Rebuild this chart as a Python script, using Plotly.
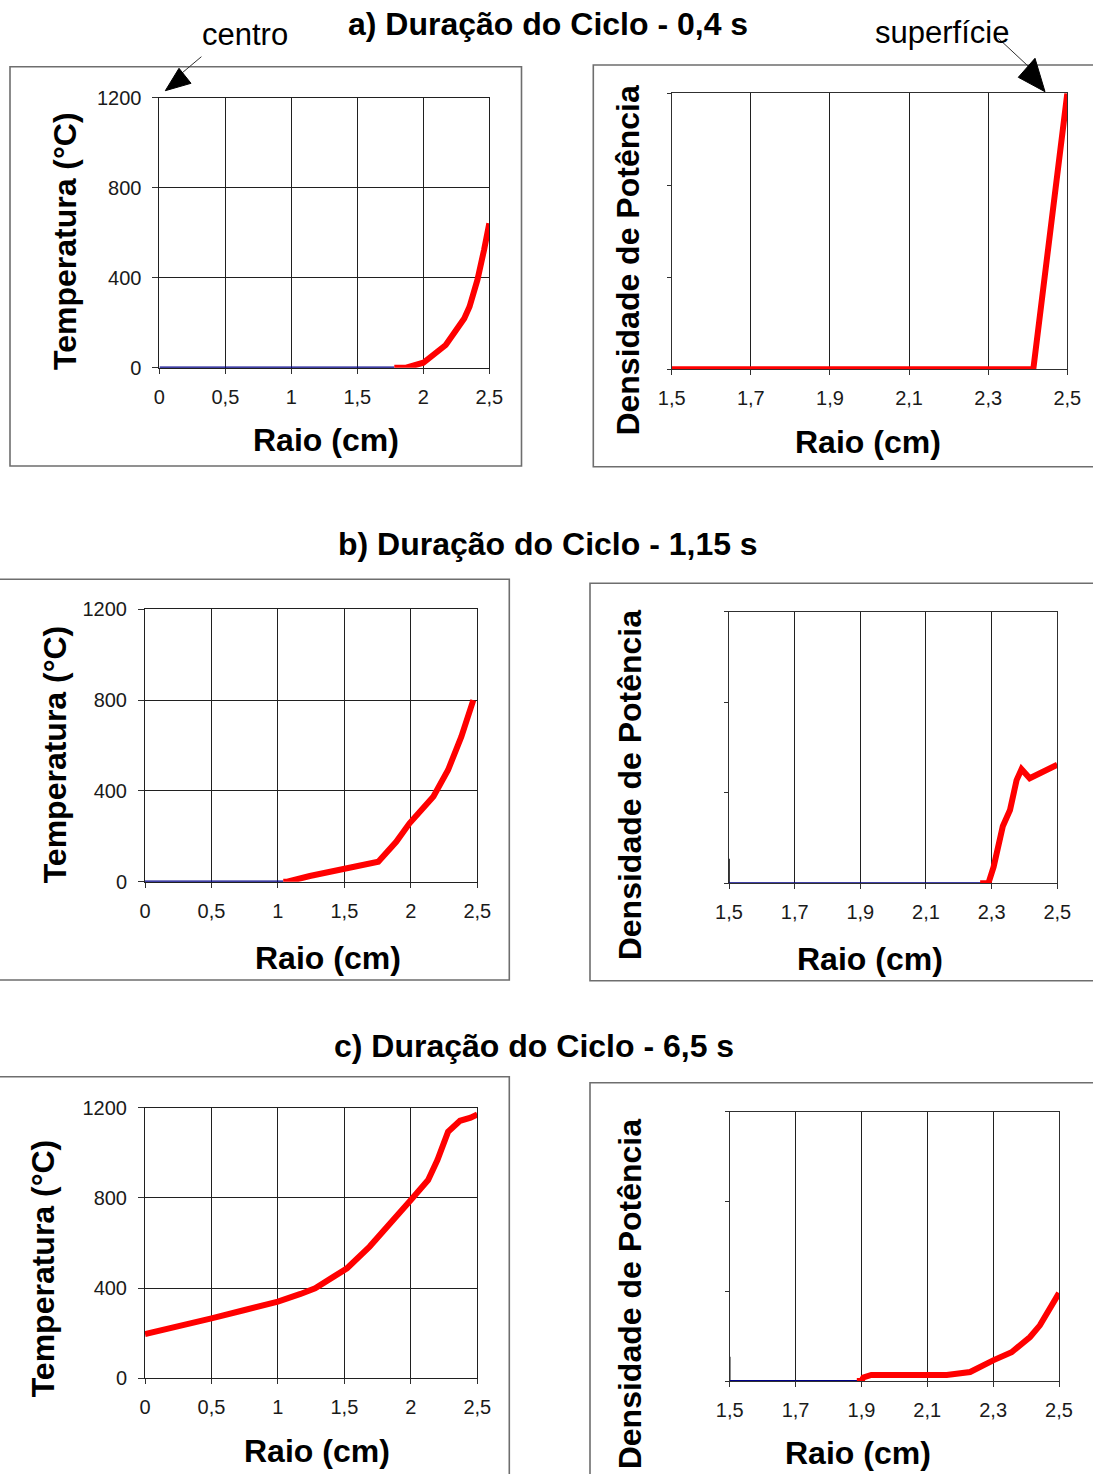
import plotly.graph_objects as go

# ---------------------------------------------------------------------------
# Perfis de temperatura (°C) ao longo do raio (cm)
# ---------------------------------------------------------------------------
# a) ciclo de 0,4 s
raio_temp_a = [1.78, 1.87, 2.00, 2.08, 2.17, 2.24, 2.31, 2.35, 2.41, 2.46, 2.50]
temp_a = [0, 0, 22, 56, 101, 160, 219, 271, 390, 523, 642]
raio_base_temp_a = [0.0, 1.78]
temp_base_a = [0, 0]

# b) ciclo de 1,15 s
raio_temp_b = [1.04, 1.07, 1.24, 1.52, 1.755, 1.89, 1.99, 2.17, 2.28, 2.38, 2.47]
temp_b = [0, 0, 25, 59, 88, 176, 257, 375, 492, 639, 800]
raio_base_temp_b = [0.0, 1.04]
temp_base_b = [0, 0]

# c) ciclo de 6,5 s
raio_temp_c = [0.0, 0.25, 0.5, 0.75, 1.0, 1.17, 1.28, 1.42, 1.52, 1.69, 1.84,
               2.0, 2.13, 2.2, 2.28, 2.37, 2.45, 2.5]
temp_c = [196, 229, 266, 303, 340, 374, 399, 451, 488, 584, 680,
          791, 879, 968, 1093, 1142, 1156, 1170]

# ---------------------------------------------------------------------------
# Densidade de potência (unidades relativas) ao longo do raio (cm)
# ---------------------------------------------------------------------------
raio_pot_a = [1.5, 2.414, 2.5]
pot_a = [0, 0, 3]

raio_pot_b = [2.265, 2.29, 2.306, 2.334, 2.356, 2.376, 2.391, 2.416, 2.5]
pot_b = [0, 0, 0.18, 0.63, 0.81, 1.14, 1.26, 1.16, 1.31]
raio_base_pot_b = [1.5, 2.28]
pot_base_b = [0, 0]

raio_pot_c = [1.886, 1.90, 1.906, 1.93, 2.159, 2.23, 2.30, 2.356, 2.412, 2.442, 2.5]
pot_c = [0, 0, 0.04, 0.067, 0.067, 0.10, 0.23, 0.32, 0.49, 0.62, 0.98]
raio_base_pot_c = [1.5, 1.89]
pot_base_c = [0, 0]

# pequeno traço vertical na origem dos gráficos de potência (b e c)
raio_marca = [1.5, 1.5]
pot_marca = [0, 0.27]

# Eixos
temp_tickvals = [0, 400, 800, 1200]
temp_ticktext = ["0", "400", "800", "1200"]
raio_temp_tickvals = [0, 0.5, 1, 1.5, 2, 2.5]
raio_temp_ticktext = ["0", "0,5", "1", "1,5", "2", "2,5"]
raio_pot_tickvals = [1.5, 1.7, 1.9, 2.1, 2.3, 2.5]
raio_pot_ticktext = ["1,5", "1,7", "1,9", "2,1", "2,3", "2,5"]
pot_tickvals = [0, 1, 2, 3]

titulos = ["a) Duração do Ciclo - 0,4 s",
           "b) Duração do Ciclo - 1,15 s",
           "c) Duração do Ciclo - 6,5 s"]

# ---------------------------------------------------------------------------
W, H = 1093, 1474
FONT = "Liberation Sans, Arial, sans-serif"
RED = "#ff0000"
BLUE = "#000088"


def px(x):
    return x / W


def py(y):
    return 1 - y / H


fig = go.Figure()

# domínios das áreas de plotagem (pixels: x0, x1, ytop, ybottom)
areas = {
    1: (159.4, 489.3, 97.7, 367.7),    # a - temperatura
    2: (671.7, 1067.3, 93.3, 369.3),   # a - potência
    3: (145.0, 477.3, 609.3, 881.7),   # b - temperatura
    4: (729.0, 1057.3, 611.7, 883.3),  # b - potência
    5: (145.0, 477.3, 1107.7, 1378.3), # c - temperatura
    6: (729.7, 1059.0, 1111.7, 1381.0),# c - potência
}


def axname(i, kind):
    return kind if i == 1 else f"{kind}{i}"


def add_line(i, x, y, color, width):
    fig.add_trace(go.Scatter(
        x=x, y=y, mode="lines",
        line=dict(color=color, width=width),
        xaxis=("x" if i == 1 else f"x{i}"),
        yaxis=("y" if i == 1 else f"y{i}"),
        showlegend=False, hoverinfo="skip"))


# temperatura
add_line(1, raio_base_temp_a, temp_base_a, BLUE, 2.2)
add_line(1, raio_temp_a, temp_a, RED, 6)
add_line(3, raio_base_temp_b, temp_base_b, BLUE, 2.2)
add_line(3, raio_temp_b, temp_b, RED, 6)
add_line(5, raio_temp_c, temp_c, RED, 6)

# potência
add_line(2, raio_pot_a, pot_a, RED, 6)
add_line(4, raio_marca, pot_marca, "#000000", 1.5)
add_line(4, raio_base_pot_b, pot_base_b, BLUE, 2.2)
add_line(4, raio_pot_b, pot_b, RED, 6)
add_line(6, raio_marca, pot_marca, "#000000", 1.5)
add_line(6, raio_base_pot_c, pot_base_c, BLUE, 2.2)
add_line(6, raio_pot_c, pot_c, RED, 6)

tickfont = dict(family=FONT, size=20, color="#1a1a1a")
layout_axes = {}
for i, (x0, x1, yt, yb) in areas.items():
    is_temp = i % 2 == 1
    xa = dict(
        domain=[px(x0), px(x1)],
        anchor=("y" if i == 1 else f"y{i}"),
        showline=True, linecolor="#202020", linewidth=1, mirror=True,
        showgrid=True, gridcolor="#202020", gridwidth=1,
        zeroline=False, automargin=False,
        ticks="outside", ticklen=5, tickcolor="#303030",
        tickfont=tickfont, ticklabelstandoff=6,
        fixedrange=True,
    )
    ya = dict(
        domain=[py(yb), py(yt)],
        anchor=("x" if i == 1 else f"x{i}"),
        showline=True, linecolor="#202020", linewidth=1, mirror=True,
        zeroline=False, automargin=False,
        ticks="outside", ticklen=6, tickcolor="#303030",
        tickfont=tickfont, ticklabelstandoff=7,
        fixedrange=True,
    )
    if is_temp:
        xa.update(range=[0, 2.5], tickvals=raio_temp_tickvals,
                  ticktext=raio_temp_ticktext)
        ya.update(range=[0, 1200], tickvals=temp_tickvals,
                  ticktext=temp_ticktext, showgrid=True,
                  gridcolor="#202020", gridwidth=1)
    else:
        xa.update(range=[1.5, 2.5], tickvals=raio_pot_tickvals,
                  ticktext=raio_pot_ticktext, linecolor="#303030")
        ya.update(range=[0, 3], tickvals=pot_tickvals, showticklabels=False,
                  showgrid=False, ticklen=4, linecolor="#303030")
    layout_axes[axname(i, "xaxis")] = xa
    layout_axes[axname(i, "yaxis")] = ya

fig.update_layout(**layout_axes)

# molduras de cada painel
frames = [
    (10, 521.5, 66.7, 466.0),
    (593.3, 1100, 65.0, 466.7),
    (-3, 509.3, 579.3, 980.0),
    (590.0, 1100, 583.3, 980.7),
    (-3, 509.3, 1076.7, 1480),
    (590.0, 1100, 1082.7, 1480),
]
shapes = []
for x0, x1, y0, y1 in frames:
    shapes.append(dict(type="rect", xref="paper", yref="paper",
                       x0=px(x0), x1=px(x1), y0=py(y1), y1=py(y0),
                       line=dict(color="#6e6e6e", width=1.6),
                       fillcolor="rgba(0,0,0,0)", layer="below"))

# setas "centro" e "superfície"
shapes.append(dict(type="line", xref="paper", yref="paper",
                   x0=px(201.4), y0=py(56.7), x1=px(182), y1=py(73),
                   line=dict(color="#303030", width=1)))
shapes.append(dict(type="path", xref="paper", yref="paper",
                   path=f"M {px(165.3)} {py(90.7)} L {px(179)} {py(68.3)} "
                        f"L {px(191)} {py(83.3)} Z",
                   fillcolor="#000000", line=dict(color="#000000", width=1)))
shapes.append(dict(type="line", xref="paper", yref="paper",
                   x0=px(998.3), y0=py(38.3), x1=px(1028), y1=py(66),
                   line=dict(color="#303030", width=1)))
shapes.append(dict(type="path", xref="paper", yref="paper",
                   path=f"M {px(1045)} {py(91.7)} L {px(1018.3)} {py(77.3)} "
                        f"L {px(1035)} {py(58.3)} Z",
                   fillcolor="#000000", line=dict(color="#000000", width=1)))

annotations = []


def text(x, y, s, size, bold=False, angle=0):
    annotations.append(dict(
        xref="paper", yref="paper", x=px(x), y=py(y),
        xanchor="center", yanchor="middle", showarrow=False,
        text=(f"<b>{s}</b>" if bold else s), textangle=angle,
        font=dict(family=FONT, size=size, color="#000000")))


# títulos
text(547.5, 24.0, titulos[0], 32, bold=True)
text(548.0, 544.0, titulos[1], 32, bold=True)
text(533.5, 1045.5, titulos[2], 32, bold=True)

# rótulos das setas
text(244.5, 35.0, "centro", 31)
text(942.0, 32.0, "superfície", 31)

# títulos dos eixos x
for x, y in [(326, 440), (868, 442), (328, 957.5), (870, 959),
             (316.5, 1451), (858, 1452.5)]:
    text(x, y, "Raio (cm)", 32, bold=True)

# títulos dos eixos y
for x, y in [(65, 241), (55.3, 754), (43.3, 1268)]:
    text(x, y, "Temperatura (°C)", 32, bold=True, angle=-90)
for x, y in [(627.6, 260), (630.3, 785), (630.3, 1294)]:
    text(x, y, "Densidade de Potência", 32, bold=True, angle=-90)

fig.update_layout(
    width=W, height=H, autosize=False,
    margin=dict(l=0, r=0, t=0, b=0, pad=0, autoexpand=False),
    paper_bgcolor="#ffffff", plot_bgcolor="#ffffff",
    shapes=shapes, annotations=annotations,
    showlegend=False,
    font=dict(family=FONT),
)

# página sem margens nem barras de rolagem
page_js = ("document.body.style.margin='0';"
           "document.body.style.padding='0';"
           "document.documentElement.style.overflow='hidden';"
           "document.body.style.overflow='hidden';")

fig.write_html("out.html", config={"displayModeBar": False},
               post_script=page_js)
